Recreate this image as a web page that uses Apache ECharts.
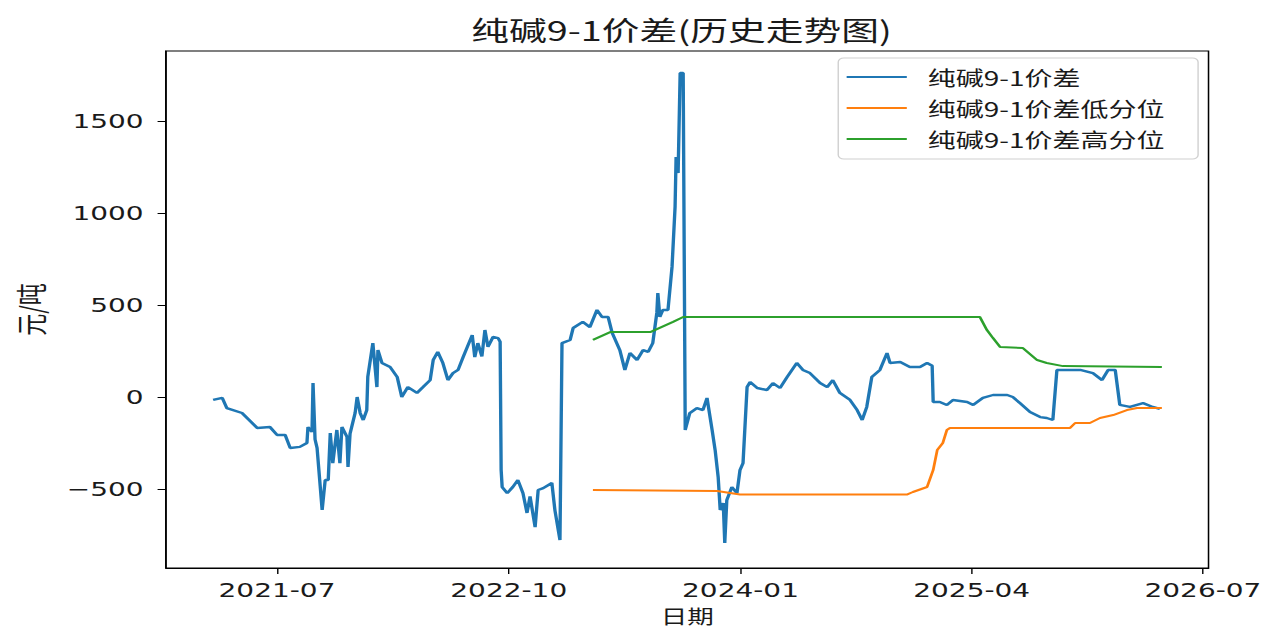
<!DOCTYPE html>
<html>
<head>
<meta charset="utf-8">
<script src="https://cdn.jsdelivr.net/npm/echarts@6/dist/echarts.min.js"></script>
<style>
html,body{margin:0;padding:0;background:#fff;overflow:hidden;}
#wrap{width:1265px;height:630px;overflow:hidden;}
#chart{width:904px;height:630px;transform:scaleX(1.3994);transform-origin:0 0;}
</style>
</head>
<body>
<div id="wrap"><div id="chart"></div></div>
<script>
// ---- data ----
const spreadDates = ['2021-02-25','2021-03-15','2021-03-24','2021-04-23','2021-05-23','2021-06-17','2021-07-01','2021-07-17','2021-07-27','2021-08-15','2021-08-29','2021-08-31','2021-09-08','2021-09-10','2021-09-14','2021-09-18','2021-09-28','2021-10-04','2021-10-10','2021-10-14','2021-10-19','2021-10-27','2021-11-02','2021-11-06','2021-11-16','2021-11-18','2021-11-22','2021-12-02','2021-12-06','2021-12-12','2021-12-18','2021-12-25','2021-12-27','2022-01-06','2022-01-14','2022-01-16','2022-01-24','2022-02-09','2022-02-23','2022-03-04','2022-03-16','2022-04-03','2022-04-15','2022-04-29','2022-05-05','2022-05-14','2022-05-24','2022-06-03','2022-06-13','2022-06-23','2022-07-03','2022-07-21','2022-07-26','2022-08-01','2022-08-09','2022-08-15','2022-08-21','2022-08-31','2022-09-10','2022-09-14','2022-09-16','2022-09-18','2022-09-28','2022-10-09','2022-10-19','2022-10-29','2022-11-06','2022-11-12','2022-11-22','2022-11-28','2022-12-08','2022-12-25','2022-12-31','2023-01-10','2023-01-14','2023-01-30','2023-02-05','2023-02-24','2023-03-10','2023-03-24','2023-04-03','2023-04-15','2023-04-23','2023-05-08','2023-05-18','2023-05-28','2023-06-11','2023-06-23','2023-07-03','2023-07-12','2023-07-20','2023-07-22','2023-07-26','2023-08-01','2023-08-11','2023-08-19','2023-08-25','2023-08-27','2023-08-31','2023-09-04','2023-09-10','2023-09-14','2023-09-23','2023-10-07','2023-10-19','2023-10-27','2023-11-06','2023-11-12','2023-11-18','2023-11-22','2023-11-28','2023-12-01','2023-12-05','2023-12-15','2023-12-25','2023-12-31','2024-01-06','2024-01-14','2024-01-20','2024-02-03','2024-02-22','2024-03-05','2024-03-19','2024-04-02','2024-04-21','2024-05-03','2024-05-17','2024-06-06','2024-06-20','2024-07-01','2024-07-15','2024-08-04','2024-08-18','2024-08-28','2024-09-06','2024-09-16','2024-10-02','2024-10-16','2024-10-22','2024-11-11','2024-11-30','2024-12-20','2025-01-03','2025-01-13','2025-01-15','2025-01-28','2025-02-11','2025-02-23','2025-03-23','2025-04-04','2025-04-23','2025-05-13','2025-06-10','2025-06-21','2025-07-05','2025-07-25','2025-08-14','2025-08-27','2025-09-08','2025-09-16','2025-11-01','2025-11-26','2025-12-14','2025-12-26','2026-01-09','2026-01-18','2026-02-07','2026-03-05','2026-03-24','2026-04-07'];
const spreadValues = [-16,-5,-60,-87,-168,-163,-206,-206,-277,-271,-250,-163,-190,76,-230,-277,-614,-451,-451,-196,-359,-179,-359,-163,-217,-380,-200,-87,0,-87,-125,-71,109,293,54,255,185,163,109,0,54,22,54,92,201,245,185,92,130,147,217,337,217,293,220,364,272,326,320,300,-397,-489,-522,-489,-451,-522,-630,-540,-707,-505,-495,-467,-614,-777,293,310,375,408,380,473,435,435,348,255,147,239,201,255,245,293,457,565,435,473,473,707,1033,1304,1217,1761,1761,-179,-87,-60,-71,-5,-179,-288,-435,-614,-576,-793,-560,-489,-522,-397,-359,54,82,49,38,76,49,109,185,147,130,76,54,92,22,-16,-71,-125,-54,109,147,239,185,190,163,163,185,170,-27,-27,-43,-16,-27,-43,-5,11,11,0,-33,-82,-109,-114,-125,147,147,130,92,147,147,-43,-54,-33,-54,-65];

const lowDates = ['2023-03-16','2023-11-16','2023-12-31','2024-11-24','2024-12-06','2025-01-03','2025-01-15','2025-01-23','2025-02-03','2025-02-11','2025-02-17','2025-10-12','2025-10-22','2025-11-20','2025-12-10','2026-01-05','2026-02-01','2026-02-21','2026-04-11'];
const lowValues = [-505,-511,-530,-530,-516,-489,-397,-288,-250,-179,-168,-168,-141,-141,-114,-98,-71,-60,-60];

const highDates = ['2023-03-16','2023-04-19','2023-07-07','2023-08-21','2023-09-10','2025-04-17','2025-05-01','2025-05-13','2025-05-27','2025-07-11','2025-08-08','2025-08-27','2025-09-28','2026-04-11'];
const highValues = [310,353,353,408,435,435,364,320,272,266,201,185,168,163];

const seriesNames = ['纯碱9-1价差','纯碱9-1价差低分位','纯碱9-1价差高分位'];
const xTickLabels = ['2021-07','2022-10','2024-01','2025-04','2026-07'];
const yTickValues = [-500,0,500,1000,1500];
const xRange = ['2020-11-24','2026-07-12'];
const yRange = [-929,1880];

// ---- chart ----
const ts = s => new Date(s + 'T00:00:00').getTime();
const zip = (d, v) => d.map((x, i) => [ts(x), v[i]]);
const xTickValues = xTickLabels.map(s => ts(s + '-01'));

const chart = echarts.init(document.getElementById('chart'), null, {renderer: 'svg'});
const tickFont = 'DejaVu Sans';
const cjk = 'Noto Sans CJK SC';
chart.setOption({
  animation: false,
  backgroundColor: '#fff',
  title: {
    text: '纯碱9-1价差(历史走势图)',
    left: 482, top: 11, textAlign: 'center',
    textStyle: {fontFamily: cjk, fontSize: 27, fontWeight: 'normal', color: '#1a1a1a'}
  },
  legend: {
    left: 599, top: 58, orient: 'vertical',
    icon: 'rect', itemWidth: 43, itemHeight: 2, itemGap: 11,
    padding: [9, 24, 10, 6],
    backgroundColor: '#fff', borderColor: '#d0d0d0', borderWidth: 1, borderRadius: 4,
    textStyle: {fontFamily: cjk, fontSize: 20, color: '#1a1a1a', padding: [0, 0, 0, 10]},
    data: seriesNames
  },
  grid: {left: 118.6, right: 40.4, top: 51, bottom: 62, outerBoundsMode: 'none', show: true, borderColor: '#000', borderWidth: 1.1, backgroundColor: 'transparent'},
  xAxis: {
    type: 'value', min: ts(xRange[0]), max: ts(xRange[1]),
    name: '日期', nameLocation: 'middle', nameGap: 38,
    nameTextStyle: {fontFamily: cjk, fontSize: 19, color: '#1a1a1a'},
    axisLine: {show: true, onZero: false, lineStyle: {color: '#000', width: 1.1}},
    axisTick: {show: true, length: 6, lineStyle: {color: '#000'}, customValues: xTickValues},
    axisLabel: {
      customValues: xTickValues, margin: 12,
      fontFamily: tickFont, fontSize: 20, color: '#1a1a1a',
      formatter: v => { const i = xTickValues.indexOf(v); return i >= 0 ? xTickLabels[i] : ''; }
    },
    splitLine: {show: false}
  },
  yAxis: {
    type: 'value', min: yRange[0], max: yRange[1],
    name: '元/吨', nameLocation: 'middle', nameGap: 86, nameRotate: 90,
    nameTextStyle: {fontFamily: cjk, fontSize: 22, color: '#1a1a1a'},
    axisLine: {show: true, onZero: false, lineStyle: {color: '#000', width: 1.1}},
    axisTick: {show: true, length: 6, lineStyle: {color: '#000'}, customValues: yTickValues},
    axisLabel: {
      customValues: yTickValues, margin: 16,
      fontFamily: tickFont, fontSize: 20, color: '#1a1a1a',
      formatter: v => (v < 0 ? '\u2212' + Math.abs(v) : String(v))
    },
    splitLine: {show: false}
  },
  series: [
    {name: seriesNames[0], type: 'line', data: zip(spreadDates, spreadValues), symbol: 'none', lineStyle: {color: '#1f77b4', width: 2.4}, itemStyle: {color: '#1f77b4'}},
    {name: seriesNames[1], type: 'line', data: zip(lowDates, lowValues), symbol: 'none', lineStyle: {color: '#ff7f0e', width: 2}, itemStyle: {color: '#ff7f0e'}},
    {name: seriesNames[2], type: 'line', data: zip(highDates, highValues), symbol: 'none', lineStyle: {color: '#2ca02c', width: 2}, itemStyle: {color: '#2ca02c'}}
  ]
});
</script>
</body>
</html>
